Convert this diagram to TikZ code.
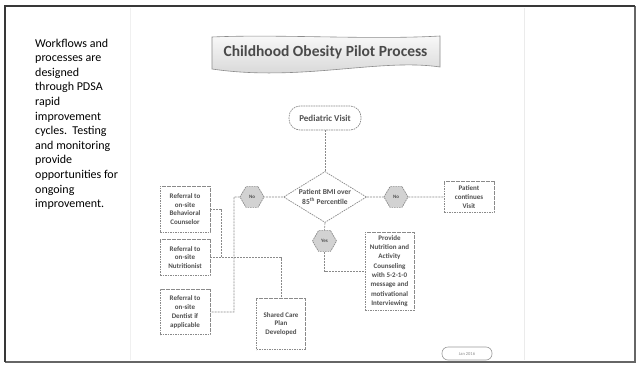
\documentclass[tikz,border=0pt]{standalone}
\usepackage{fontspec}
\setmainfont{Carlito}
\usetikzlibrary{shapes.geometric}
\definecolor{lnc}{HTML}{8A8A8A}
\definecolor{txc}{HTML}{505050}
\definecolor{hexf}{HTML}{D2D2D2}
\definecolor{titf}{HTML}{E4E4E4}
\definecolor{titc}{HTML}{4A4A4A}
\begin{document}
\begin{tikzpicture}[x=1pt,y=-1pt,
  dashb/.style={draw=lnc, dash pattern=on 1.6pt off 0.9pt, line width=0.7pt},
  box/.style={dashb, fill=white, align=center, font=\fontsize{7}{8.8}\selectfont\bfseries, text=txc, inner sep=1pt},
  conn/.style={draw=lnc, dash pattern=on 2pt off 1pt, line width=0.6pt},
  hexa/.style={regular polygon, regular polygon sides=6, minimum size=24pt, inner sep=0pt, fill=hexf, dashb, font=\fontsize{5}{6}\selectfont\bfseries, text=txc}]
\useasboundingbox (0,0) rectangle (637,364);
\fill[white] (0,0) rectangle (637,364);
% faint slide edges
\draw[line width=0.8pt, color=black!6] (130,8) -- (130,360);
\draw[line width=0.8pt, color=black!8] (524,8) -- (524,360);
% frame
\draw[line width=1.2pt, color=black!60] (635,6) -- (635,362) -- (5,362);
\draw[line width=2pt, color=black!78] (5,362) -- (5,6) -- (635,6);
% left text
\node[anchor=north west, align=left, inner sep=0pt, font=\fontsize{12}{14.6}\selectfont] (side) at (35,38.5)
 {Workflows and\\processes are\\designed\\through PDSA\\rapid\\improvement\\cycles.\ \ Testing\\and monitoring\\provide\\opportunities for\\ongoing\\improvement.};
% title banner
\draw[draw=black!45, line width=0.6pt, top color=white!80!titf, bottom color=titf!92!black]
  (212,37) .. controls (280,34) and (370,40) .. (440,36)
  -- (440,67) .. controls (380,58) and (300,82) .. (212,69) -- cycle;
\node[font=\fontsize{15.5}{18}\selectfont\bfseries, text=titc, inner sep=0pt] (title) at (325.5,52) {Childhood Obesity Pilot Process};
% flowchart nodes
\node[box, rounded corners=11pt, minimum width=72pt, minimum height=24pt, font=\fontsize{9}{10}\selectfont\bfseries] (pv) at (325,118) {Pediatric Visit};
\node[diamond, dashb, fill=white, aspect=1.63, inner sep=-2.5pt, minimum width=83pt, minimum height=51pt, align=center, font=\fontsize{7.5}{9.5}\selectfont\bfseries, text=txc] (dia) at (325,197) {Patient BMI over\\85\textsuperscript{th} Percentile};
\node[hexa] (noL) at (252,197) {No};
\node[hexa] (noR) at (396,197) {No};
\node[hexa] (yes) at (324.5,241) {Yes};
\node[box, minimum width=50pt, minimum height=31pt] (pc) at (469,197) {Patient\\continues\\Visit};
\node[box, minimum width=49pt, minimum height=78pt, font=\fontsize{7}{9.3}\selectfont\bfseries] (prov) at (389.5,271) {Provide\\Nutrition and\\Activity\\Counseling\\with 5-2-1-0\\message and\\motivational\\Interviewing};
\node[box, minimum width=50pt, minimum height=46pt] (beh) at (185,209) {Referral to\\on-site\\Behavioral\\Counselor};
\node[box, minimum width=50pt, minimum height=36pt] (nut) at (185,257.5) {Referral to\\on-site\\Nutritionist};
\node[box, minimum width=50pt, minimum height=45pt] (dent) at (185,312) {Referral to\\on-site\\Dentist if\\applicable};
\node[box, minimum width=49pt, minimum height=51pt] (scp) at (281,324) {Shared Care\\Plan\\Developed};
\node[draw=black!40, line width=0.6pt, rounded corners=6pt, minimum width=50pt, minimum height=13pt, inner sep=0pt, font=\fontsize{4.5}{5}\selectfont, text=black!45] (foot) at (467,353.5) {Jan 2016};
% junction points
\coordinate (jL) at (234,197);
\coordinate (jB) at (221,257.5);
% connectors
\draw[conn] (pv.south) -- (dia.north);
\draw[conn] (dia.west) -- (noL.east);
\draw[conn] (dia.east) -- (noR.west);
\draw[conn] (noR.east) -- (pc.west);
\draw[conn] (dia.south) -- (yes.north);
\draw[conn] (yes.south) |- (prov.west);
\draw[conn] (noL.west) -- (jL) |- (dent.east);
\draw[conn] (beh.east) -| (jB);
\draw[conn] (nut.east) -| (scp.north);
\end{tikzpicture}
\end{document}
